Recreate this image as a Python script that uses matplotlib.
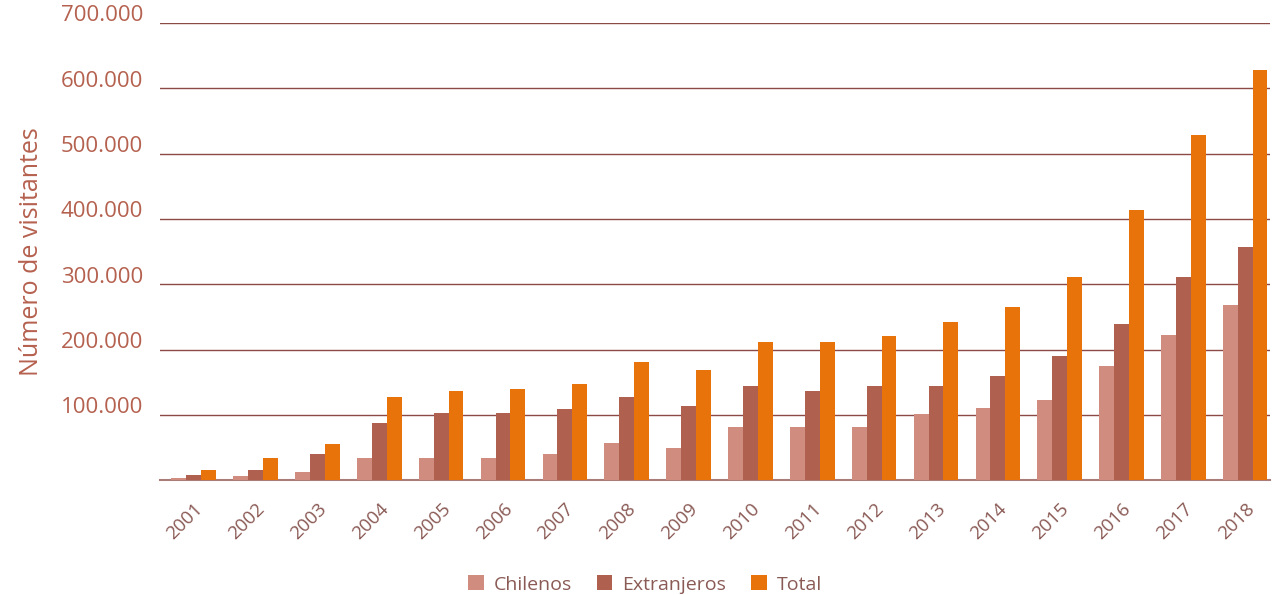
import numpy as np
import matplotlib
matplotlib.use('Agg')
import matplotlib.pyplot as plt
import matplotlib.transforms as mtransforms

years = ['2001', '2002', '2003', '2004', '2005', '2006', '2007', '2008', '2009',
         '2010', '2011', '2012', '2013', '2014', '2015', '2016', '2017', '2018']
chilenos = [3000, 6500, 13000, 34000, 34000, 34000, 40000, 57000, 50000,
            81000, 81000, 81000, 101000, 111000, 123000, 175000, 223000, 268000]
extranjeros = [8000, 16000, 40000, 88000, 103000, 103000, 109000, 127000, 113000,
               145000, 136000, 145000, 145000, 159000, 190000, 239000, 311000, 357000]
total = [16000, 34000, 56000, 127000, 136000, 139000, 148000, 181000, 169000,
         211000, 211000, 221000, 243000, 265000, 311000, 414000, 529000, 629000]
yticks = [100000, 200000, 300000, 400000, 500000, 600000, 700000]

plt.rcParams['font.family'] = ['Open Sans', 'DejaVu Sans']

fig = plt.figure(figsize=(12.88, 5.95), dpi=100)
ax = fig.add_axes([0.124, 0.193, 0.862, 0.768])

x = np.arange(len(years))
w = 0.24
ax.bar(x - w, chilenos, w, color='#CF8C7F', label='Chilenos', zorder=3)
ax.bar(x, extranjeros, w, color='#B0604F', label='Extranjeros', zorder=3)
ax.bar(x + w, total, w, color='#E8730A', label='Total', zorder=3)

ax.set_xlim(-0.55, 17.4)
ax.set_ylim(0, 700000)

# y axis
ax.set_yticks(yticks)
ax.set_yticklabels([f'{v:,}'.replace(',', '.') for v in yticks],
                   fontsize=16, color='#B5614F')
ax.tick_params(axis='y', length=0, pad=12)
offset = mtransforms.ScaledTranslation(0, 7 / 72, fig.dpi_scale_trans)
for lab in ax.get_yticklabels():
    lab.set_transform(lab.get_transform() + offset)
ax.yaxis.grid(True, color='#8B4A45', linewidth=1, zorder=0)

ax.set_ylabel('Número de visitantes', fontsize=18, color='#B5614F', labelpad=12)

# x axis
ax.set_xticks(x)
ax.set_xticklabels(years, rotation=45, ha='right', rotation_mode='anchor',
                   fontsize=13.5, color='#8A5A55')
ax.tick_params(axis='x', length=0, pad=14)

for s in ['top', 'right', 'left']:
    ax.spines[s].set_visible(False)
ax.spines['bottom'].set_color('#A87C78')
ax.spines['bottom'].set_linewidth(1.5)

leg = ax.legend(loc='upper center', bbox_to_anchor=(0.437, -0.17), ncol=3,
                frameon=False, fontsize=14, handlelength=0.8, handleheight=0.8,
                handletextpad=0.5, columnspacing=1.3)
for t in leg.get_texts():
    t.set_color('#8A5A55')

plt.savefig('out.png', dpi=100)
